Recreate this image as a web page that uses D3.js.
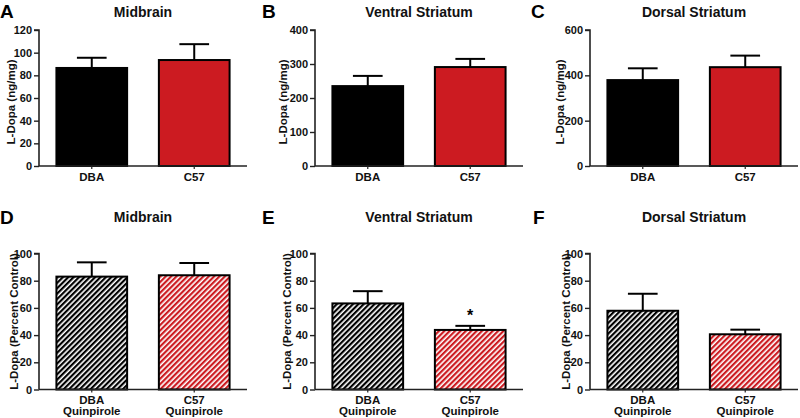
<!DOCTYPE html>
<html>
<head>
<meta charset="utf-8">
<script src="https://cdn.jsdelivr.net/npm/d3@7"></script>
<style>
  html, body { margin: 0; padding: 0; background: #fff; }
  svg { display: block; font-family: "Liberation Sans", Arial, sans-serif; font-weight: bold; }
</style>
</head>
<body>
<svg id="chart" width="800" height="418"></svg>
<script>
// ---------- data ----------
const topCategories = ["DBA", "C57"];
const bottomCategories = [["DBA", "Quinpirole"], ["C57", "Quinpirole"]];
const panelLetters = ["A", "B", "C", "D", "E", "F"];
const panelTitles = ["Midbrain", "Ventral Striatum", "Dorsal Striatum", "Midbrain", "Ventral Striatum", "Dorsal Striatum"];

const midbrainMean = [86.5, 93.5];
const midbrainSem = [9, 14];
const ventralMean = [235, 291];
const ventralSem = [30, 24];
const dorsalMean = [379, 436];
const dorsalSem = [52, 51];

const midbrainPctMean = [83, 84];
const midbrainPctSem = [10.5, 9];
const ventralPctMean = [63.3, 43.8];
const ventralPctSem = [9, 3];
const dorsalPctMean = [57.9, 40.6];
const dorsalPctSem = [12.5, 3.4];

const topYMax = [120, 400, 600];
const topYTicks = [[0, 20, 40, 60, 80, 100, 120], [0, 100, 200, 300, 400], [0, 200, 400, 600]];
const bottomYTicks = [0, 20, 40, 60, 80, 100];
const significance = [null, null, null, null, [null, "*"], null];

const topYLabel = "L-Dopa (ng/mg)";
const bottomYLabel = "L-Dopa (Percent Control)";

// ---------- layout ----------
const svg = d3.select("#chart");
const colX = [39, 315, 590];
const plotW = 208;
const rows = [{ top: 30, bottom: 166 }, { top: 253.5, bottom: 389.5 }];
const labelOffsets = [28, 32, 30, 25, 28, 24];
const letterX = [0, 262, 531, 0, 262, 533];
const RED = "#cc1b21";

// hatch patterns
const defs = svg.append("defs");
function hatch(id, color) {
  const p = defs.append("pattern")
    .attr("id", id)
    .attr("patternUnits", "userSpaceOnUse")
    .attr("width", 3.8).attr("height", 3.8)
    .attr("patternTransform", "rotate(45)");
  p.append("rect").attr("width", 3.8).attr("height", 3.8).attr("fill", "#fff");
  p.append("rect").attr("width", 2.2).attr("height", 3.8).attr("fill", color);
}
hatch("hatchBlack", "#000");
hatch("hatchRed", RED);

const panels = [
  { mean: midbrainMean, sem: midbrainSem, ymax: topYMax[0], ticks: topYTicks[0], cats: topCategories, label: topYLabel, fills: ["#000", RED] },
  { mean: ventralMean, sem: ventralSem, ymax: topYMax[1], ticks: topYTicks[1], cats: topCategories, label: topYLabel, fills: ["#000", RED] },
  { mean: dorsalMean, sem: dorsalSem, ymax: topYMax[2], ticks: topYTicks[2], cats: topCategories, label: topYLabel, fills: ["#000", RED] },
  { mean: midbrainPctMean, sem: midbrainPctSem, ymax: 100, ticks: bottomYTicks, cats: bottomCategories, label: bottomYLabel, fills: ["url(#hatchBlack)", "url(#hatchRed)"] },
  { mean: ventralPctMean, sem: ventralPctSem, ymax: 100, ticks: bottomYTicks, cats: bottomCategories, label: bottomYLabel, fills: ["url(#hatchBlack)", "url(#hatchRed)"] },
  { mean: dorsalPctMean, sem: dorsalPctSem, ymax: 100, ticks: bottomYTicks, cats: bottomCategories, label: bottomYLabel, fills: ["url(#hatchBlack)", "url(#hatchRed)"] }
];

panels.forEach((p, i) => {
  const col = i % 3, row = Math.floor(i / 3);
  const x0 = colX[col];
  const r = rows[row];
  const g = svg.append("g");

  const keys = p.cats.map((c, k) => k);
  const x = d3.scaleBand().domain(keys).range([x0, x0 + plotW]).paddingInner(0.31).paddingOuter(0.17);
  const y = d3.scaleLinear().domain([0, p.ymax]).range([r.bottom, r.top]);

  // panel letter
  svg.append("text").attr("x", letterX[i]).attr("y", row === 0 ? 18 : 224)
    .attr("font-size", 19).attr("fill", "#000").text(panelLetters[i]);
  // title
  svg.append("text").attr("x", x0 + plotW / 2).attr("y", row === 0 ? 17 : 222)
    .attr("text-anchor", "middle").attr("font-size", 14).attr("fill", "#111").text(panelTitles[i]);

  // bars
  g.selectAll("rect.bar").data(keys).enter().append("rect")
    .attr("x", k => x(k)).attr("width", x.bandwidth())
    .attr("y", k => y(p.mean[k])).attr("height", k => y(0) - y(p.mean[k]))
    .attr("fill", k => p.fills[k]).attr("stroke", "#000").attr("stroke-width", 2);

  // error bars (upper only)
  const cap = x.bandwidth() * 0.42;
  keys.forEach(k => {
    const cx = x(k) + x.bandwidth() / 2;
    g.append("line").attr("x1", cx).attr("x2", cx)
      .attr("y1", y(p.mean[k])).attr("y2", y(p.mean[k] + p.sem[k]))
      .attr("stroke", "#000").attr("stroke-width", 2);
    g.append("line").attr("x1", cx - cap / 2).attr("x2", cx + cap / 2)
      .attr("y1", y(p.mean[k] + p.sem[k])).attr("y2", y(p.mean[k] + p.sem[k]))
      .attr("stroke", "#000").attr("stroke-width", 2);
    if (significance[i] && significance[i][k]) {
      g.append("text").attr("x", cx).attr("y", y(p.mean[k] + p.sem[k]) - 5)
        .attr("text-anchor", "middle").attr("font-size", 16).attr("fill", "#000")
        .text(significance[i][k]);
    }
  });

  // y axis
  const yAxis = d3.axisLeft(y).tickValues(p.ticks).tickSize(5).tickPadding(2).tickFormat(d3.format("d"));
  const ya = g.append("g").attr("transform", `translate(${x0},0)`).call(yAxis);
  ya.select(".domain").attr("stroke", "#222").attr("stroke-width", 1.6).attr("d", `M-5,${r.top}H0V${r.bottom}`);
  ya.selectAll(".tick line").attr("stroke", "#222").attr("stroke-width", 1.4);
  ya.selectAll(".tick text").attr("font-size", 11).attr("font-family", "Liberation Sans, Arial, sans-serif")
    .attr("font-weight", "bold").attr("fill", "#111");

  // x axis
  const xAxis = d3.axisBottom(x).tickSize(3).tickFormat("");
  const xa = g.append("g").attr("transform", `translate(0,${r.bottom})`).call(xAxis);
  xa.select(".domain").attr("stroke", "#222").attr("stroke-width", 1.6).attr("d", `M${x0},0H${x0 + plotW}`);
  xa.selectAll(".tick line").attr("stroke", "#222").attr("stroke-width", 1.2);

  // x labels
  keys.forEach(k => {
    const cx = x(k) + x.bandwidth() / 2;
    const lines = Array.isArray(p.cats[k]) ? p.cats[k] : [p.cats[k]];
    lines.forEach((t, li) => {
      svg.append("text").attr("x", cx).attr("y", r.bottom + 14.5 + li * 11)
        .attr("text-anchor", "middle").attr("font-size", 11.5).attr("fill", "#111").text(t);
    });
  });

  // y label
  const ly = (r.top + r.bottom) / 2 + (row === 0 ? 4 : 0);
  const lx = x0 - labelOffsets[i];
  svg.append("text").attr("transform", `translate(${lx + 4},${ly}) rotate(-90)`)
    .attr("text-anchor", "middle").attr("font-size", 11.5).attr("fill", "#111").text(p.label);
});
</script>
</body>
</html>
